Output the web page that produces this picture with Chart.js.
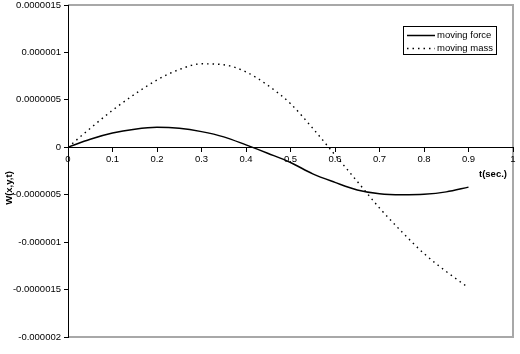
<!DOCTYPE html>
<html><head><meta charset="utf-8">
<script src="https://cdn.jsdelivr.net/npm/chart.js@4/dist/chart.umd.min.js"></script>
<style>html,body{margin:0;padding:0;background:#fff}#wrap{width:520px;height:354px}</style>
</head><body><div id="wrap"><canvas id="c" width="520" height="354"></canvas></div>
<script>
const tValues = [0,0.05,0.1,0.15,0.2,0.25,0.3,0.35,0.4,0.45,0.5,0.55,0.6,0.65,0.7,0.75,0.8,0.85,0.9];
const movingForce = [0,0.085e-6,0.15e-6,0.19e-6,0.21e-6,0.2e-6,0.165e-6,0.11e-6,0.025e-6,-0.065e-6,-0.16e-6,-0.28e-6,-0.37e-6,-0.45e-6,-0.49e-6,-0.50e-6,-0.495e-6,-0.47e-6,-0.42e-6];
const movingMass = [0,0.2e-6,0.39e-6,0.56e-6,0.71e-6,0.82e-6,0.88e-6,0.87e-6,0.795e-6,0.65e-6,0.46e-6,0.2e-6,-0.08e-6,-0.36e-6,-0.64e-6,-0.89e-6,-1.12e-6,-1.31e-6,-1.48e-6];
const seriesNames = ['moving force','moving mass'];
const xTickValues = [0,0.1,0.2,0.3,0.4,0.5,0.6,0.7,0.8,0.9,1];
const xTickLabels = ['0','0.1','0.2','0.3','0.4','0.5','0.6','0.7','0.8','0.9','1'];
const yTickValues = [-2e-6,-1.5e-6,-1e-6,-0.5e-6,0,0.5e-6,1e-6,1.5e-6];
const yTickLabels = ['-0.000002','-0.0000015','-0.000001','-0.0000005','0','0.0000005','0.000001','0.0000015'];
const xTitle = 't(sec.)';
const yTitle = 'W(x,y,t)';

const FONT = 'Liberation Sans, Arial, sans-serif';

const framePlugin = {
  id: 'frame',
  beforeDraw(chart) {
    const {ctx, chartArea: a} = chart;
    ctx.save();
    ctx.strokeStyle = '#a8a8a8';
    ctx.lineWidth = 2;
    ctx.beginPath();
    ctx.moveTo(a.left, a.top); ctx.lineTo(a.right, a.top);
    ctx.lineTo(a.right, a.bottom); ctx.lineTo(a.left, a.bottom);
    ctx.stroke();
    ctx.restore();
  },
  afterDraw(chart) {
    const {ctx} = chart;
    ctx.save();
    ctx.fillStyle = '#000';
    ctx.font = 'bold 9.5px ' + FONT;
    ctx.textAlign = 'center'; ctx.textBaseline = 'middle';
    ctx.fillText(xTitle, 493, 174);
    ctx.translate(9, 188); ctx.rotate(-Math.PI/2);
    ctx.fillText(yTitle, 0, 0);
    ctx.restore();
    ctx.save();
    ctx.fillStyle = '#fff';
    ctx.fillRect(403.5, 26.5, 93, 28);
    ctx.strokeStyle = '#000'; ctx.lineWidth = 1;
    ctx.strokeRect(403.5, 26.5, 93, 28);
    chart.data.datasets.forEach((ds, i) => {
      const y = 35.5 + i * 13;
      ctx.strokeStyle = ds.borderColor; ctx.lineWidth = ds.borderWidth;
      ctx.setLineDash(ds.borderDash || []);
      ctx.beginPath(); ctx.moveTo(407, y); ctx.lineTo(435, y); ctx.stroke();
      ctx.setLineDash([]);
      ctx.fillStyle = '#000'; ctx.font = '9.5px ' + FONT;
      ctx.textAlign = 'left'; ctx.textBaseline = 'middle';
      ctx.fillText(ds.label, 437, y);
    });
    ctx.restore();
  }
};

new Chart(document.getElementById('c'), {
  type: 'line',
  data: {
    datasets: [
      {label: seriesNames[0], data: tValues.map((t,i)=>({x:t,y:movingForce[i]})), borderColor:'#000', borderWidth:1.5, pointRadius:0, cubicInterpolationMode:'monotone', fill:false},
      {label: seriesNames[1], data: tValues.map((t,i)=>({x:t,y:movingMass[i]})), borderColor:'#000', borderWidth:1.4, borderDash:[1.5,4], pointRadius:0, cubicInterpolationMode:'monotone', fill:false}
    ]
  },
  options: {
    responsive:false, animation:false, devicePixelRatio:1,
    layout:{padding:{left:0, top:5, right:7, bottom:17}},
    plugins:{legend:{display:false}, tooltip:{enabled:false}},
    scales:{
      x:{type:'linear', min:0, max:1, position:{y:0},
        afterBuildTicks(ax){ ax.ticks = xTickValues.map(v=>({value:v})); },
        ticks:{callback:(v,i)=>xTickLabels[i], color:'#000', font:{family:FONT,size:9.5}, maxRotation:0, padding:2},
        grid:{drawOnChartArea:false, drawTicks:true, tickLength:4, color:'#000'},
        border:{color:'#000', width:1}
      },
      y:{type:'linear', min:-2e-6, max:1.5e-6,
        afterBuildTicks(ax){ ax.ticks = yTickValues.map(v=>({value:v})); },
        afterFit(ax){ ax.width = 68; ax.paddingTop = 0; ax.paddingBottom = 0; },
        ticks:{callback:(v,i)=>yTickLabels[i], color:'#000', font:{family:FONT,size:9.5}, padding:3},
        grid:{drawOnChartArea:false, drawTicks:true, tickLength:4, color:'#000'},
        border:{color:'#000', width:1}
      }
    }
  },
  plugins:[framePlugin]
});
</script></body></html>
